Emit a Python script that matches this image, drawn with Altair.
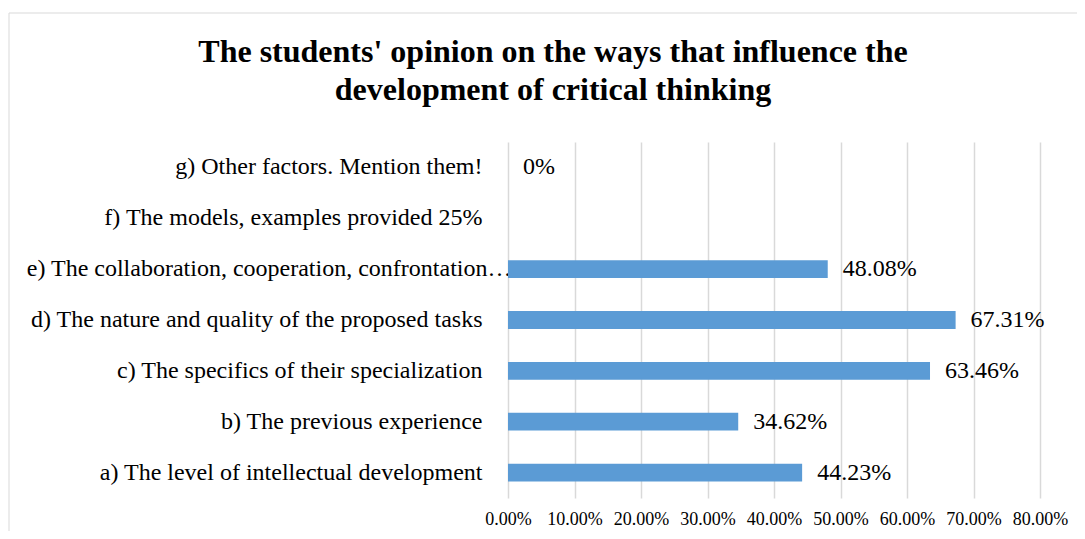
import altair as alt
import pandas as pd

categories = [
    "a) The level of intellectual development",
    "b) The previous experience",
    "c) The specifics of their specialization",
    "d) The nature and quality of the proposed tasks",
    "e) The collaboration, cooperation, confrontation\u2026",
    "f) The models, examples provided 25%",
    "g) Other factors. Mention them!",
]
values = [44.23, 34.62, 63.46, 67.31, 48.08, None, 0.0]
value_labels = ["44.23%", "34.62%", "63.46%", "67.31%", "48.08%", "", "0%"]
x_ticks = [0, 10, 20, 30, 40, 50, 60, 70, 80]
title_lines = [
    "The students' opinion on the ways that influence the",
    "development of critical thinking",
]

df = pd.DataFrame({"category": categories, "value": values, "label": value_labels})
order = categories[::-1]

FONT = "Liberation Serif"

y_enc = alt.Y(
    "category:N",
    title=None,
    scale=alt.Scale(domain=order, paddingInner=0.65, paddingOuter=0.325),
    axis=alt.Axis(
        domain=False,
        ticks=False,
        grid=False,
        labelFont=FONT,
        labelFontSize=24,
        labelColor="#000000",
        labelLimit=0,
        labelPadding={
            "condition": {"test": "indexof(datum.value, 'e)') == 0", "value": -3},
            "value": 26,
        },
    ),
)
x_enc = alt.X(
    "value:Q",
    title=None,
    scale=alt.Scale(domain=[0, 80], nice=False),
    axis=alt.Axis(
        values=x_ticks,
        labelExpr="format(datum.value, '.2f') + '%'",
        domain=False,
        ticks=False,
        grid=True,
        gridColor="#d9d9d9",
        gridWidth=1.5,
        labelFont=FONT,
        labelFontSize=18,
        labelColor="#000000",
        labelPadding=12,
        labelOverlap=False,
        labelFlush=False,
    ),
)

base = alt.Chart(df)
bars = base.mark_bar(color="#5B9BD5").encode(x=x_enc, y=y_enc)
text = (
    base.transform_filter("isValid(datum.value)")
    .mark_text(align="left", baseline="middle", dx=15, font=FONT, fontSize=24, color="#000000")
    .encode(x="value:Q", y="category:N", text="label:N")
)

frame_df = pd.DataFrame({"d": [0]})
frame_top = (
    alt.Chart(frame_df)
    .mark_rule(color="#d9d9d9", strokeWidth=1)
    .encode(x=alt.value(-499), x2=alt.value(800), y=alt.value(-129))
)
frame_left = (
    alt.Chart(frame_df)
    .mark_rule(color="#d9d9d9", strokeWidth=1)
    .encode(x=alt.value(-499), y=alt.value(-129), y2=alt.value(600))
)

chart = (
    alt.layer(frame_top, frame_left, bars, text)
    .properties(
        width=532,
        height=356,
        background="white",
        autosize=alt.AutoSizeParams(type="none"),
        padding={"left": 500, "top": 134, "right": 37, "bottom": 33},
        title=alt.Title(
            text=title_lines,
            font=FONT,
            fontSize=32,
            fontWeight="bold",
            color="#000000",
            anchor="middle",
            dx=-221,
            offset=-94,
            lineHeight=38,
        ),
    )
    .configure_view(strokeWidth=0, stroke="transparent")
)

chart.save("out.html", embed_options={"renderer": "svg", "actions": False})
